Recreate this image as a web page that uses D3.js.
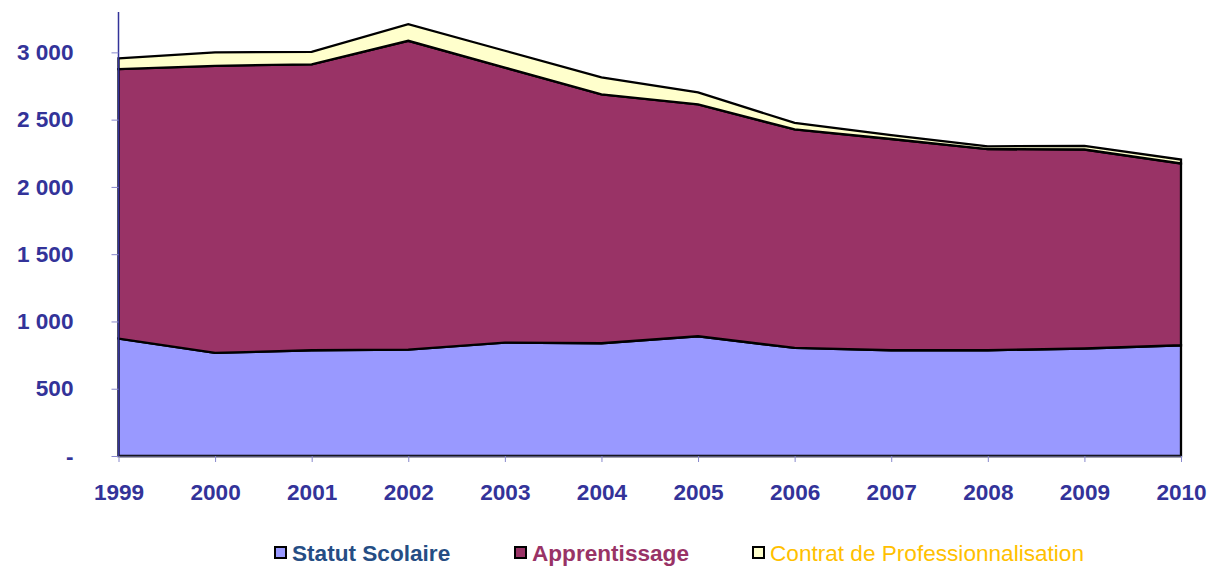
<!DOCTYPE html>
<html>
<head>
<meta charset="utf-8">
<script src="https://cdn.jsdelivr.net/npm/d3@7"></script>
<style>
  body { margin: 0; background: #fff; }
  svg text { font-family: 'Liberation Sans', Arial, sans-serif; }
</style>
</head>
<body>
<svg id="chart" width="1212" height="566"></svg>
<script>
// Data
const years = [1999, 2000, 2001, 2002, 2003, 2004, 2005, 2006, 2007, 2008, 2009, 2010];
const statutScolaire = [873, 766, 786, 791, 843, 838, 890, 803, 786, 786, 799, 823];
const apprentissage = [2003, 2134, 2125, 2295, 2044, 1849, 1723, 1624, 1570, 1495, 1479, 1351];
const contratPro = [79, 100, 93, 124, 125, 127, 89, 49, 29, 21, 27, 29];
const yTicks = [0, 500, 1000, 1500, 2000, 2500, 3000];

const series = [
  { key: 'Statut Scolaire', values: statutScolaire, fill: '#9999ff', text: '#254d84', weight: 'bold' },
  { key: 'Apprentissage', values: apprentissage, fill: '#993366', text: '#993366', weight: 'bold' },
  { key: 'Contrat de Professionnalisation', values: contratPro, fill: '#ffffcc', text: '#ffc000', weight: 'normal' },
];

const table = years.map((year, i) => {
  const row = { year };
  series.forEach((s) => { row[s.key] = s.values[i]; });
  return row;
});

const svg = d3.select('#chart');
const margin = { left: 118.5, right: 31, top: 12, bottom: 110 };
const width = 1212;
const height = 566;
const fontSize = 22.6;

const x = d3.scaleLinear()
  .domain(d3.extent(years))
  .range([margin.left, width - margin.right]);

const y = d3.scaleLinear()
  .domain([0, 3300])
  .range([height - margin.bottom, margin.top]);

const stacked = d3.stack().keys(series.map((s) => s.key))(table);

const area = d3.area()
  .x((d) => x(d.data.year))
  .y0((d) => y(d[0]))
  .y1((d) => y(d[1]));

// Stacked areas, each outlined in black
svg.append('g')
  .selectAll('path')
  .data(stacked)
  .join('path')
  .attr('d', area)
  .attr('fill', (d, i) => series[i].fill)
  .attr('stroke', '#000')
  .attr('stroke-width', 2.3)
  .attr('stroke-linejoin', 'miter');

const fmt = (v) => (v === 0 ? '-' : d3.format(',')(v).replace(/,/g, ' '));

// Y axis
const yAxis = svg.append('g')
  .attr('transform', `translate(${margin.left},0)`)
  .call(d3.axisLeft(y).tickValues(yTicks).tickFormat(fmt).tickSize(7).tickPadding(38).tickSizeOuter(0));

yAxis.select('.domain').attr('stroke', '#333399').attr('stroke-width', 1.5)
  .attr('d', `M0,${margin.top}V${y(0)}`);
yAxis.selectAll('.tick line').attr('stroke', '#8888cc');
yAxis.selectAll('.tick text')
  .attr('fill', '#333399')
  .attr('font-size', fontSize)
  .attr('font-weight', 'bold');

// X axis
const xAxis = svg.append('g')
  .attr('transform', `translate(0,${y(0)})`)
  .call(d3.axisBottom(x).tickValues(years).tickFormat(d3.format('d')).tickSize(6).tickPadding(22).tickSizeOuter(0));

xAxis.select('.domain').attr('stroke', '#555577').attr('stroke-width', 1.5);
xAxis.selectAll('.tick line').attr('stroke', '#8888cc');
xAxis.selectAll('.tick text')
  .attr('fill', '#333399')
  .attr('font-size', fontSize)
  .attr('font-weight', 'bold');

// Legend
const legendX = [275, 515, 753];
const legend = svg.append('g')
  .selectAll('g')
  .data(series)
  .join('g')
  .attr('transform', (d, i) => `translate(${legendX[i]},547)`);

legend.append('rect')
  .attr('width', 11)
  .attr('height', 11)
  .attr('fill', (d) => d.fill)
  .attr('stroke', '#000')
  .attr('stroke-width', 2);

legend.append('text')
  .attr('x', 17)
  .attr('y', 14)
  .attr('font-size', fontSize)
  .attr('font-weight', (d) => d.weight)
  .attr('fill', (d) => d.text)
  .text((d) => d.key);
</script>
</body>
</html>
